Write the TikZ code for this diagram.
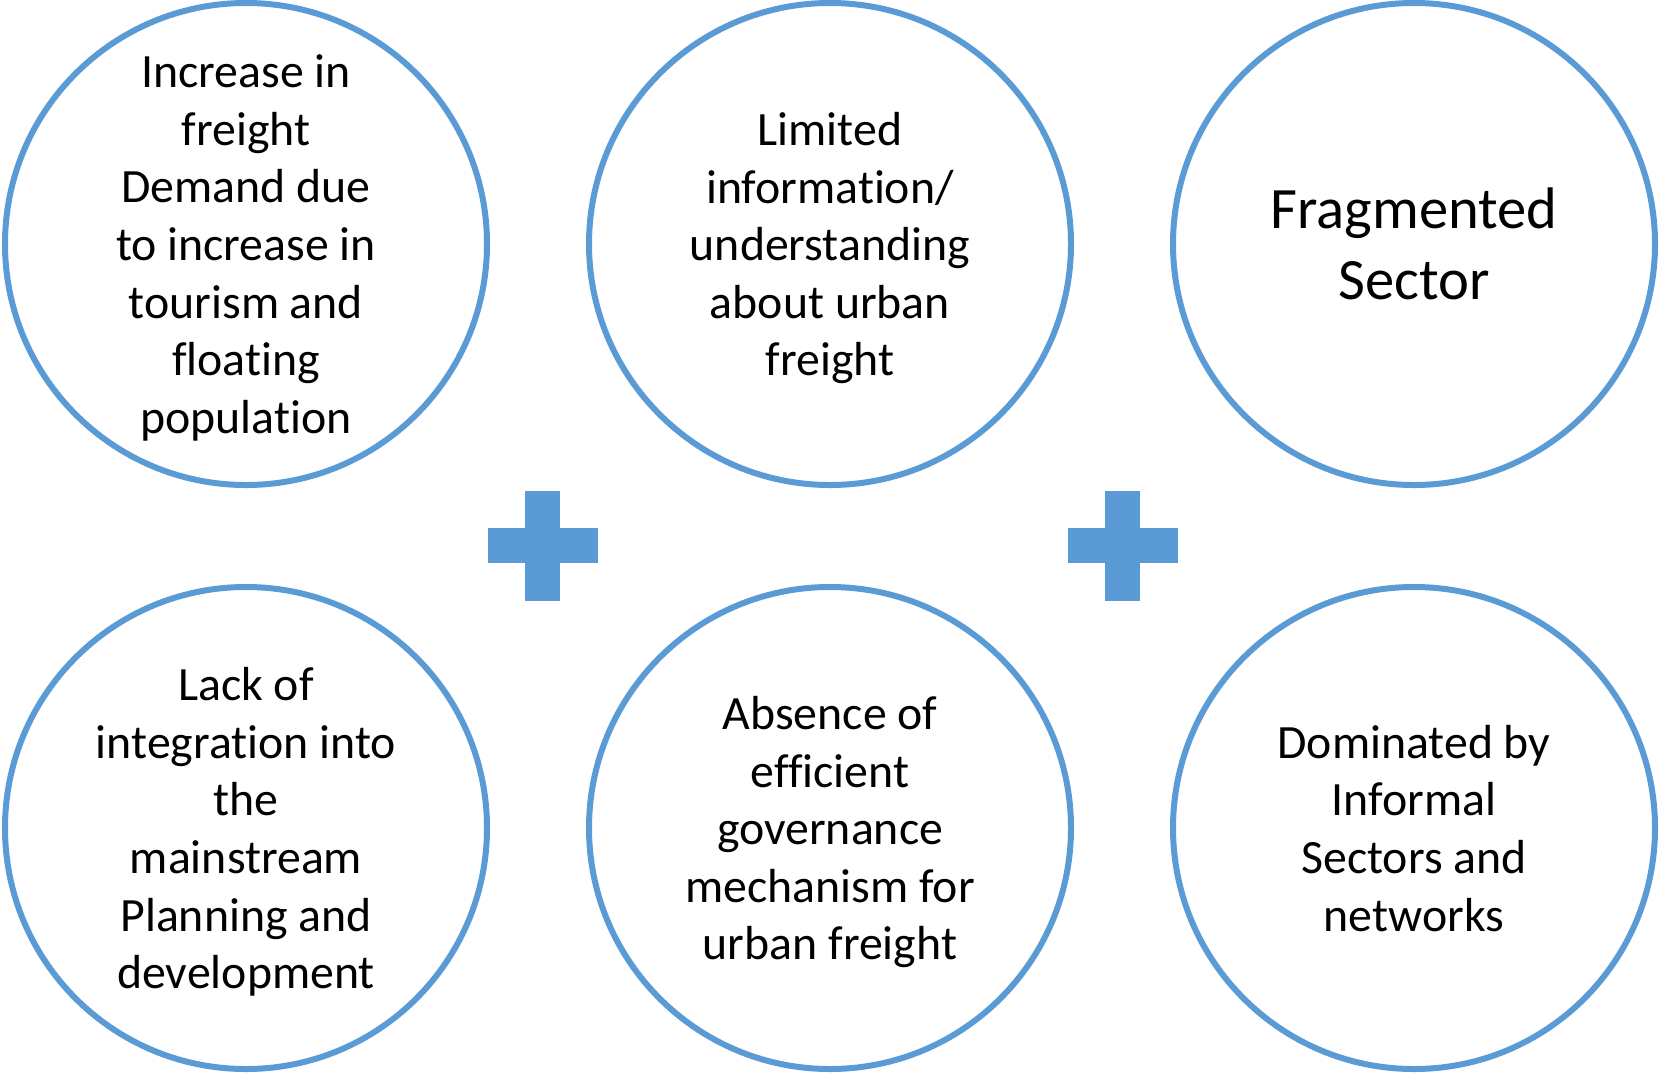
\documentclass[tikz,border=0pt]{standalone}
\usepackage{fontspec}
\setmainfont{Carlito}[Ligatures=NoCommon]
\usepackage{tikz}
\usetikzlibrary{positioning}
\definecolor{ringblue}{HTML}{5B9BD5}

\begin{document}
\begin{tikzpicture}[x=0.5pt,y=-0.5pt]
                \tikzstyle{every node}+=[inner sep=0pt]
                \tikzstyle{ring}=[draw=ringblue, line width=3pt, circle, minimum size=241pt, align=center,
                        font=\fontsize{23.9}{28.8}\selectfont, text depth=-1pt]
                \useasboundingbox (0,0) rectangle (1660,1072);
                \node [ring] (demand) at (246,244) {Increase in\\freight\\Demand due\\to increase in\\tourism and\\floating\\population};
                \node [ring] (info) at (830,244) {Limited\\information/\\understanding\\about urban\\freight};
                \node [ring, font=\fontsize{29.3}{35.5}\selectfont] (fragment) at (1414,244) {Fragmented\\Sector};
                \node [ring] (integr) at (246,828) {Lack of\\integration into\\the\\mainstream\\Planning and\\development};
                \node [ring] (govern) at (830,828) {Absence of\\efficient\\governance\\mechanism for\\urban freight};
                \node [ring] (informal) at (1414,828) {Dominated by\\Informal\\Sectors and\\networks};
                % plus signs between the rows
                \coordinate (plusA) at (542.5,545.5);
                \coordinate (plusB) at (1122.5,545.5);
                \foreach \p in {plusA,plusB}{
                        \fill [ringblue] ([shift={(-55,-17.5)}]\p) rectangle ([shift={(55,17.5)}]\p);
                        \fill [ringblue] ([shift={(-17.5,-55)}]\p) rectangle ([shift={(17.5,55)}]\p);
                }
\end{tikzpicture}
\end{document}
